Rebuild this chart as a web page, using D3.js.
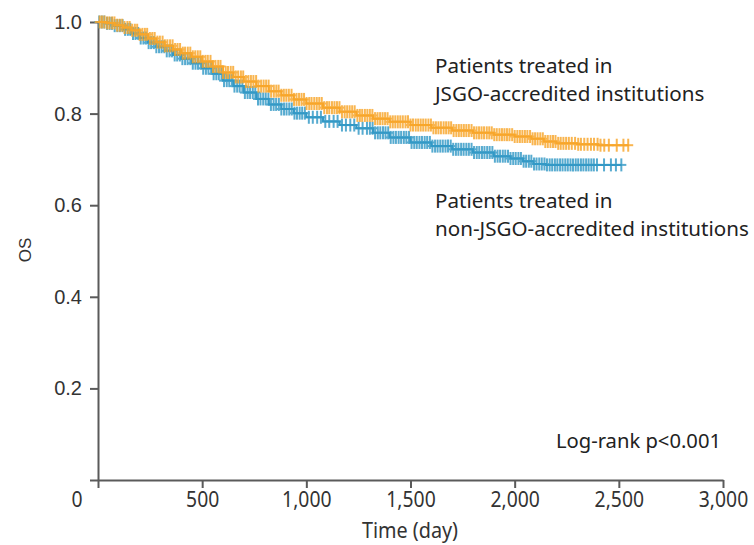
<!DOCTYPE html>
<html><head><meta charset="utf-8">
<script src="https://cdn.jsdelivr.net/npm/d3@7"></script>
<style>body{margin:0;background:#fff}svg{display:block}</style>
</head><body><svg id="c" width="754" height="545"></svg>
<script>
// ---- data ----
const xTicks = [0, 500, 1000, 1500, 2000, 2500, 3000];
const yTicks = [0, 0.2, 0.4, 0.6, 0.8, 1.0];

// Patients treated in JSGO-accredited institutions
const accTime = [0,40,80,120,160,200,240,280,320,360,400,450,500,550,600,650,700,760,820,880,940,1000,1080,1160,1240,1320,1400,1500,1600,1700,1800,1900,2000,2080,2140,2200,2300,2400,2548];
const accSurv = [1.000,0.998,0.993,0.988,0.982,0.973,0.964,0.956,0.948,0.940,0.932,0.924,0.914,0.903,0.890,0.880,0.870,0.860,0.849,0.840,0.831,0.822,0.813,0.804,0.796,0.789,0.782,0.775,0.769,0.763,0.758,0.754,0.750,0.745,0.739,0.735,0.733,0.731,0.731];
const accCensor = [8,19,31,44,55,68,79,92,104,116,127,141,152,164,177,188,200,213,225,236,249,261,272,285,297,310,321,333,346,358,370,382,394,407,418,431,443,455,467,479,491,
  503,516,527,540,552,564,577,588,600,613,624,637,649,661,673,686,697,710,722,734,746,759,770,783,795,807,819,831,844,856,867,880,892,904,916,929,941,953,965,977,989,
  1001,1014,1025,1038,1050,1062,1074,1086,1099,1110,1123,1135,1147,1159,1171,1184,1196,1208,1220,1232,1245,1257,1268,1281,1293,1305,1317,1330,1342,1354,1366,1378,1390,1403,1415,1427,1439,1451,1463,1476,1488,
  1500,1512,1525,1537,1549,1561,1573,1586,1598,1610,1622,1634,1646,1659,1671,1683,1695,1707,1720,1732,1744,1756,1768,1780,1793,1805,1817,1829,1841,1853,1866,1878,1890,1902,1914,1927,1939,1951,1963,1975,1988,
  2000,2013,2025,2037,2049,2061,2074,2086,2098,2110,2123,2135,2147,2159,2172,2184,2196,2209,2221,2234,2247,2260,2274,2290,2305,2318,2334,2350,2366,2381,2398,2412,2430,2452,2490,2522,2545];

// Patients treated in non-JSGO-accredited institutions
const nonTime = [0,40,80,120,160,200,240,280,320,360,400,450,500,550,600,650,700,760,820,880,940,1000,1080,1160,1240,1320,1400,1500,1600,1700,1800,1900,1980,2040,2090,2150,2300,2514];
const nonSurv = [1.000,0.997,0.992,0.984,0.975,0.965,0.955,0.946,0.937,0.928,0.920,0.910,0.899,0.887,0.872,0.860,0.846,0.832,0.820,0.810,0.801,0.792,0.783,0.775,0.768,0.758,0.748,0.737,0.729,0.722,0.715,0.707,0.702,0.696,0.690,0.688,0.688,0.688];
const nonCensor = [6,18,30,43,56,67,80,93,105,118,130,143,155,168,180,193,205,218,230,243,255,268,280,293,305,318,330,343,355,368,380,393,405,418,430,443,455,468,480,493,
  505,518,530,543,555,568,580,593,605,618,630,643,655,668,680,693,705,718,730,743,755,768,780,793,805,818,830,843,855,868,880,893,905,918,930,943,955,968,980,993,
  1012,1031,1052,1070,1091,1110,1131,1150,1171,1190,1211,1230,1251,1270,1291,
  1305,1318,1330,1343,1355,1368,1380,1393,1405,1418,1430,1443,1455,1468,1480,1493,1505,1518,1530,1543,1555,1568,1580,1593,1605,1618,1630,1643,1655,1668,1680,1693,1705,1718,1730,1743,1755,1768,1780,1793,
  1805,1818,1830,1843,1855,1868,1880,1893,1905,1918,1930,1943,1955,1968,1980,1993,2005,2018,2030,2043,2055,2068,2080,2093,2105,2118,2130,2143,2155,2168,2180,2193,2205,2218,2230,2243,2255,2268,2280,2293,
  2305,2318,2330,2343,2355,2368,2380,2395,2429,2462,2486,2512];

const labelAcc = ["Patients treated in", "JSGO-accredited institutions"];
const labelNon = ["Patients treated in", "non-JSGO-accredited institutions"];
const pText = "Log-rank p<0.001";

// ---- drawing ----
const svg = d3.select("#c");
const x = d3.scaleLinear().domain([0, 3000]).range([98, 723]);
const y = d3.scaleLinear().domain([0, 1]).range([480, 22]);

const axisCol = "#5a5a5a";
const tickFont = "'Noto Sans','Open Sans',sans-serif";
const gx = svg.append("g").attr("transform", `translate(0,${y(0)})`)
  .call(d3.axisBottom(x).tickValues(xTicks).tickSize(8).tickSizeOuter(0).tickPadding(3).tickFormat(d3.format(",")));
const gy = svg.append("g").attr("transform", `translate(${x(0)},0)`)
  .call(d3.axisLeft(y).tickValues(yTicks).tickSize(8).tickSizeOuter(0).tickPadding(8)
    .tickFormat(d => d === 0 ? "" : d3.format(".1f")(d)));
[gx, gy].forEach(g => {
  g.select(".domain").attr("stroke", axisCol).attr("stroke-width", 2);
  g.selectAll(".tick line").attr("stroke", axisCol).attr("stroke-width", 2);
});
gx.selectAll(".tick text").attr("fill", "#333").style("font-family", tickFont).style("font-size", "22.5px")
  .attr("transform", "scale(0.86,1)");
gx.selectAll(".tick text").filter(d => d === 0).attr("x", -25);
gy.selectAll(".tick text").attr("fill", "#333").style("font-family", "'Liberation Sans',Arial,sans-serif").style("font-size", "20px");

svg.append("g").attr("transform", "translate(410,538) scale(0.9,1)")
  .append("text").attr("text-anchor", "middle")
  .attr("fill", "#333").style("font-family", tickFont).style("font-size", "22px")
  .text("Time (day)");
svg.append("text").attr("transform", "translate(31,250) rotate(-90)").attr("text-anchor", "middle")
  .attr("fill", "#333").style("font-family", "'Liberation Sans',Arial,sans-serif").style("font-size", "17px").text("OS");

function drawCurve(times, surv, censor, color) {
  const pts = times.map((t, i) => [t, surv[i]]);
  const line = d3.line().x(d => x(d[0])).y(d => y(d[1])).curve(d3.curveStepAfter);
  svg.append("path").datum(pts).attr("d", line).attr("fill", "none").attr("stroke", color).attr("stroke-width", 2);
  const g = svg.append("g").attr("stroke", color).attr("stroke-width", 2).attr("opacity", 0.82);
  censor.forEach(t => {
    const i = Math.max(0, d3.bisectRight(times, t) - 1);
    const cx = x(t), cy = y(surv[i]);
    g.append("line").attr("x1", cx).attr("x2", cx).attr("y1", cy - 6.5).attr("y2", cy + 6.5);
    g.append("line").attr("x1", cx - 5).attr("x2", cx + 5).attr("y1", cy).attr("y2", cy);
  });
}
drawCurve(nonTime, nonSurv, nonCensor, "#3399c6");
drawCurve(accTime, accSurv, accCensor, "#f8a62a");

const annFont = "'Noto Sans','Open Sans',sans-serif";
function drawLabel(lines, x0, y0) {
  const t = svg.append("text").attr("fill", "#222").style("font-family", annFont).style("font-size", "20.6px");
  lines.forEach((s, i) => t.append("tspan").attr("x", x0).attr("y", y0 + i * 28).text(s));
}
drawLabel(labelAcc, 435, 73);
drawLabel(labelNon, 435, 208);
svg.append("text").attr("x", 721).attr("y", 448).attr("text-anchor", "end").attr("fill", "#222")
  .style("font-family", annFont).style("font-size", "20.2px").text(pText);
</script>
</body></html>
